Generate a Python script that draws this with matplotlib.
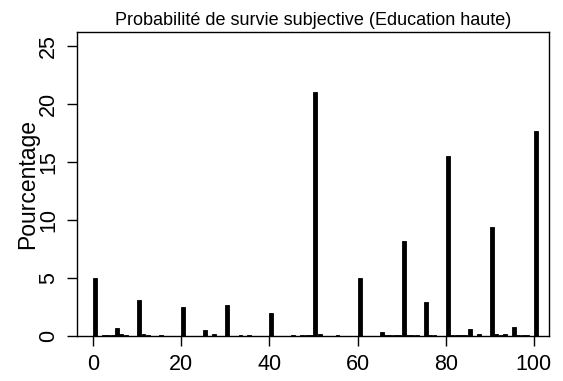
import matplotlib
matplotlib.use("Agg")
import matplotlib.pyplot as plt

# responses (percent chance) and share of respondents
values = [0, 2, 3, 4, 5, 6, 7, 10, 11, 12, 15, 20, 25, 27, 30, 33, 35, 40,
          45, 47, 48, 49, 50, 51, 55, 60, 65, 66, 67, 68, 69, 70, 71, 72, 73,
          75, 76, 77, 80, 81, 82, 83, 84, 85, 87, 90, 91, 92, 93, 95, 96, 97,
          98, 100]
pct = [5.0, 0.1, 0.1, 0.1, 0.7, 0.15, 0.1, 3.1, 0.15, 0.1, 0.1, 2.5, 0.5,
       0.15, 2.7, 0.1, 0.1, 2.0, 0.1, 0.1, 0.1, 0.1, 21.0, 0.15, 0.1, 5.0,
       0.35, 0.1, 0.1, 0.1, 0.1, 8.2, 0.1, 0.1, 0.1, 2.9, 0.1, 0.1, 15.5,
       0.1, 0.1, 0.1, 0.1, 0.6, 0.15, 9.4, 0.15, 0.1, 0.15, 0.8, 0.1, 0.1,
       0.1, 17.7]

title = "Probabilité de survie subjective (Education haute)"
xticks = [0, 20, 40, 60, 80, 100]
yticks = [0, 5, 10, 15, 20, 25]

plt.rcParams['font.family'] = ['Liberation Sans', 'DejaVu Sans']

fig = plt.figure(figsize=(5.63, 3.81), dpi=100)
ax = fig.add_axes([0.137, 0.118, 0.838, 0.798])

ax.bar(values, pct, width=0.9, align='edge', color='black',
       edgecolor='black', linewidth=0.6)

ax.set_xlim(-3.6, 103.4)
ax.set_ylim(0, 26.2)
ax.set_xticks(xticks)
ax.set_yticks(yticks)
ax.tick_params(axis='both', direction='out', length=7, width=1,
               labelsize=15.5, pad=6)
for lab in ax.get_yticklabels():
    lab.set_rotation(90)
    lab.set_va('center')
ax.set_ylabel("Pourcentage", fontsize=16.5, labelpad=-1)
ax.set_title(title, fontsize=13, pad=5)
for s in ax.spines.values():
    s.set_linewidth(1)

fig.savefig("out.png", dpi=100)
